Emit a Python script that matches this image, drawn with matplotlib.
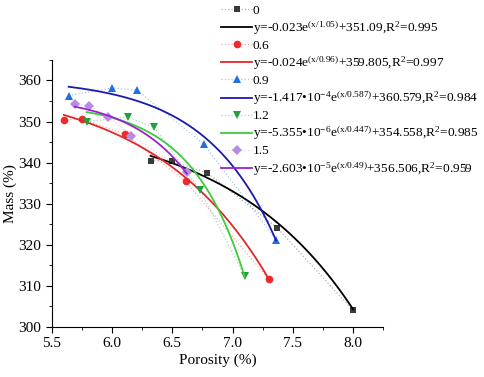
import numpy as np
import matplotlib
matplotlib.use('Agg')
import matplotlib.pyplot as plt
from matplotlib.colors import to_rgba
from matplotlib.ticker import MultipleLocator

plt.rcParams['font.family'] = ['Liberation Serif', 'DejaVu Serif']
plt.rcParams['mathtext.fontset'] = 'custom'
plt.rcParams['mathtext.rm'] = 'Liberation Serif'
plt.rcParams['mathtext.default'] = 'regular'

# measured points per series
names = ['0', '0.6', '0.9', '1.2', '1.5']
x0 = [6.32, 6.50, 6.79, 7.37, 8.00]
y0 = [340.4, 340.3, 337.5, 324.1, 304.0]
x06 = [5.60, 5.75, 6.11, 6.61, 7.30]
y06 = [350.4, 350.6, 346.9, 335.4, 311.6]
x09 = [5.64, 6.00, 6.21, 6.76, 7.36]
y09 = [356.3, 358.2, 357.6, 344.5, 321.2]
x12 = [5.79, 6.13, 6.35, 6.73, 7.10]
y12 = [350.0, 351.1, 348.6, 333.3, 312.4]
x15 = [5.69, 5.81, 5.97, 6.16, 6.62]
y15 = [354.3, 353.9, 351.1, 346.6, 337.6]

# fit y = -a*exp(x/t) + c
fit_a = [0.023, 0.024, 1.417e-4, 5.355e-6, 2.603e-5]
fit_t = [1.05, 0.96, 0.587, 0.447, 0.49]
fit_c = [351.09, 359.805, 360.579, 354.558, 356.506]
fit_labels = [
    'y=-0.023e$^{(x/1.05)}$+351.09,R$^{2}$=0.995',
    'y=-0.024e$^{(x/0.96)}$+359.805,R$^{2}$=0.997',
    'y=-1.417\u202210$^{-4}$e$^{(x/0.587)}$+360.579,R$^{2}$=0.984',
    'y=-5.355\u202210$^{-6}$e$^{(x/0.447)}$+354.558,R$^{2}$=0.985',
    'y=-2.603\u202210$^{-5}$e$^{(x/0.49)}$+356.506,R$^{2}$=0.959',
]

xs = [x0, x06, x09, x12, x15]
ys = [y0, y06, y09, y12, y15]
markers = ['s', 'o', '^', 'v', 'D']
msizes = [5, 5.5, 6, 6, 5]
mcolors = ['#3a3a3a', '#ee2a2a', '#1f6fe0', '#22a040', '#b98ae6']
lcolors = ['#000000', '#e02828', '#1a1ab0', '#3ccc3c', '#9a22cc']

fig = plt.figure(figsize=(4.84, 3.77), dpi=100)
ax = fig.add_axes([0.107, 0.133, 0.685, 0.708])

for i in range(5):
    ax.plot(xs[i], ys[i], linestyle=':', linewidth=0.9, color=to_rgba(mcolors[i], 0.4),
            marker=markers[i], markersize=msizes[i], markerfacecolor=mcolors[i],
            markeredgecolor=mcolors[i], markeredgewidth=0, label=names[i])
    xx = np.linspace(min(xs[i]), max(xs[i]), 200)
    yy = -fit_a[i] * np.exp(xx / fit_t[i]) + fit_c[i]
    ax.plot(xx, yy, color=lcolors[i], linewidth=1.3, label=fit_labels[i])

ax.set_xlim(5.5, 8.25)
ax.set_ylim(300, 365)
ax.xaxis.set_major_locator(MultipleLocator(0.5))
ax.xaxis.set_minor_locator(MultipleLocator(0.25))
ax.yaxis.set_major_locator(MultipleLocator(10))
ax.yaxis.set_minor_locator(MultipleLocator(5))
ax.spines['top'].set_visible(False)
ax.spines['right'].set_visible(False)
ax.tick_params(which='both', direction='out', labelsize=11)
ax.tick_params(which='major', length=4)
ax.tick_params(which='minor', length=2.5)
ax.set_xlabel('Porosity (%)', fontsize=11, labelpad=2)
ax.set_ylabel('Mass (%)', fontsize=11, labelpad=1)

handles, labels = ax.get_legend_handles_labels()
leg = fig.legend(handles, labels, loc='upper left', bbox_to_anchor=(0.438, 1.013),
                 frameon=False, fontsize=9.6, handlelength=2.3, handletextpad=0.05,
                 labelspacing=0.2, borderpad=0.2)

fig.savefig('out.png', dpi=100)
